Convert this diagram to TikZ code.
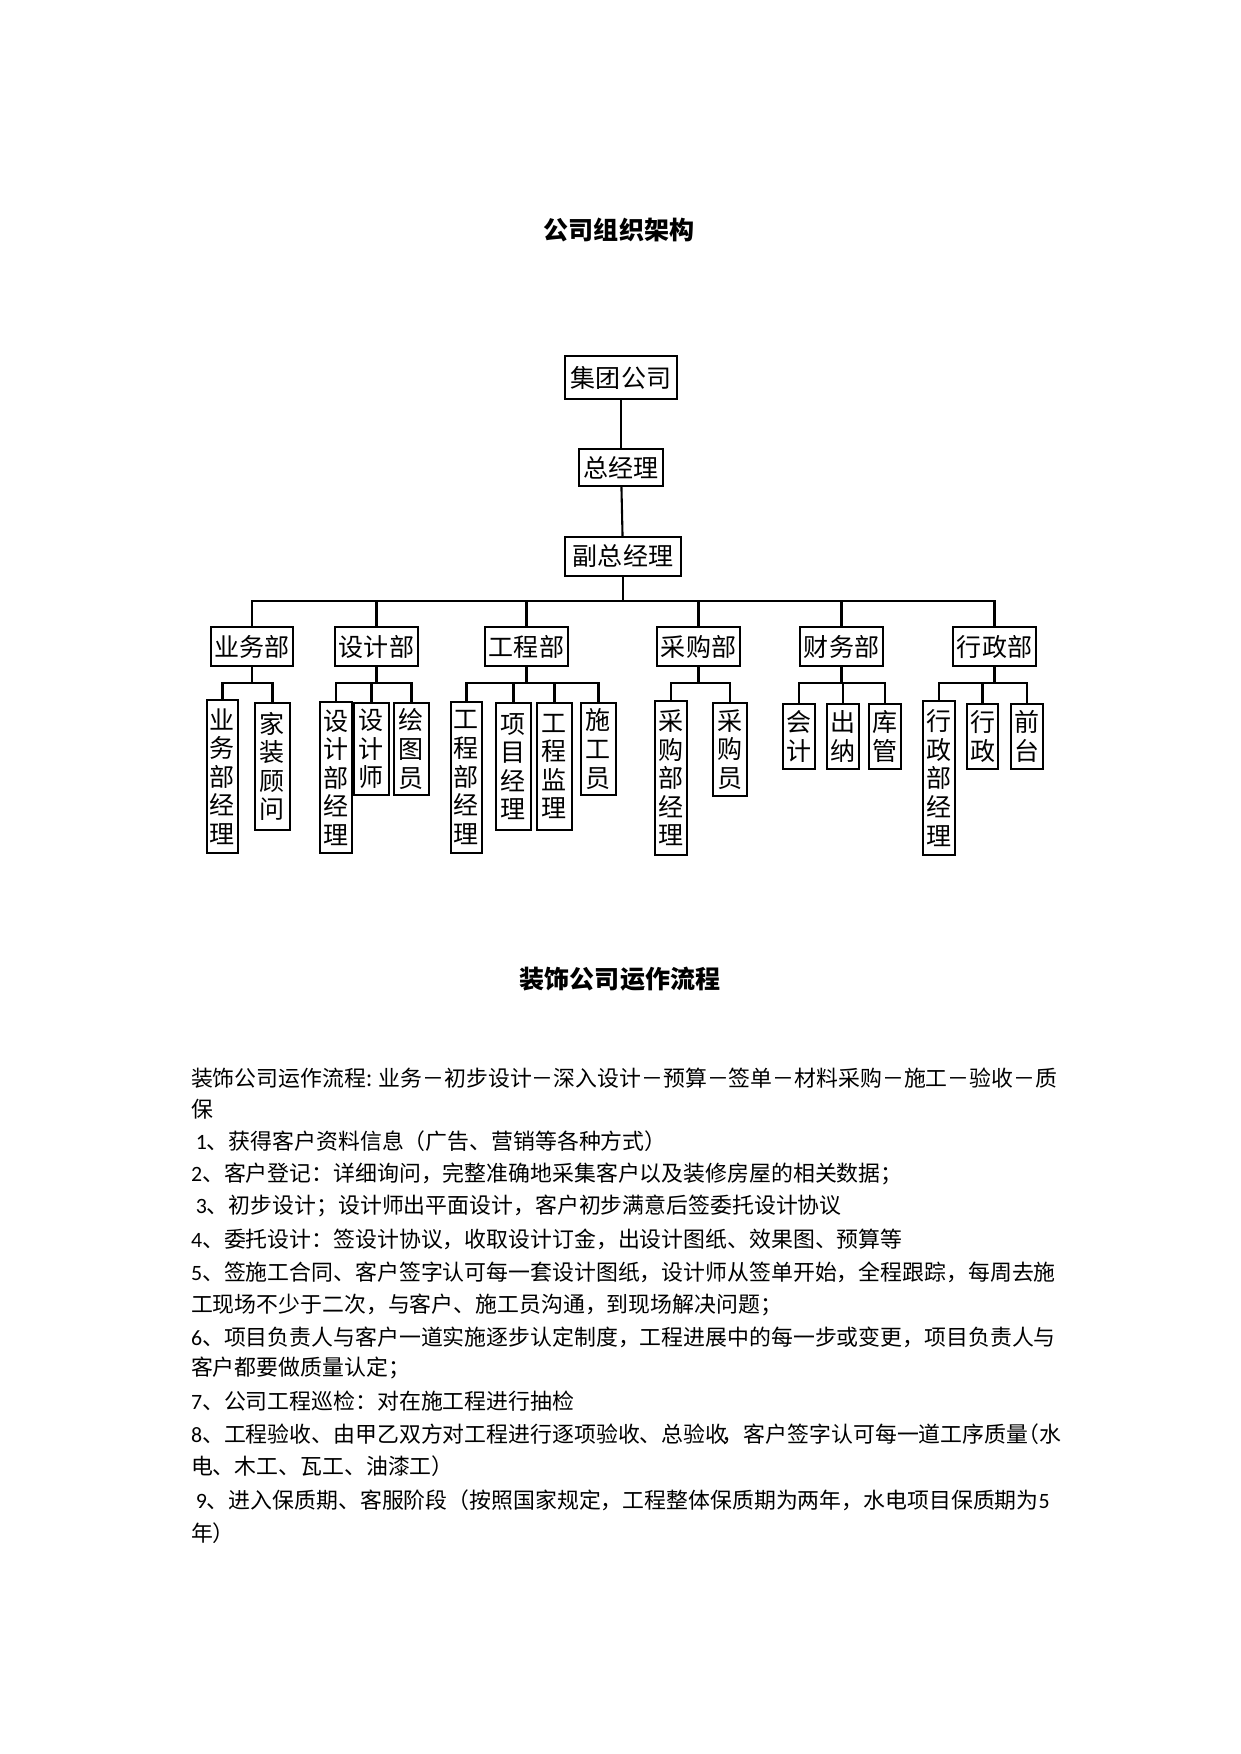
\documentclass[tikz,border=0pt]{standalone}
\usepackage{fontspec}
\setmainfont{Noto Sans CJK SC}
\newfontfamily\lat{Carlito}
\begin{document}
\begin{tikzpicture}[x=0.4797pt,y=-0.4797pt, line width=1pt,
  box/.style={draw, inner sep=0pt, font=\fontsize{12}{13.7}\selectfont, align=center},
  wh/.style 2 args={minimum width=#1*0.4797pt, minimum height=#2*0.4797pt},
  body/.style={anchor=west, inner sep=0pt, font=\fontsize{10.5}{12}\selectfont},
  ttl/.style={inner sep=0pt, font=\fontsize{12}{14}\selectfont\bfseries}]
\useasboundingbox (0,0) rectangle (1241,1754);
% titles
\node[ttl] (t1) at (619,230) {公司组织架构};
\node[ttl] (t2) at (620,979) {装饰公司运作流程};
% top chain
\node[box, wh={112}{43}] (jt) at (621,377.5) {集团公司};
\node[box, wh={84}{37}] (zjl) at (621,467.5) {总经理};
\node[box, wh={116}{39}] (fz) at (623,556.5) {副总经理};
% departments
\node[box, wh={82}{39}] (yw) at (252,646.5) {业务部};
\node[box, wh={83}{39}] (sj) at (376.5,646.5) {设计部};
\node[box, wh={83}{39}] (gc) at (526.5,646.5) {工程部};
\node[box, wh={83}{39}] (cg) at (698.5,646.5) {采购部};
\node[box, wh={83}{39}] (cw) at (841.5,646.5) {财务部};
\node[box, wh={83}{39}] (xz) at (994.5,646.5) {行政部};
% children
\node[box, wh={31}{153}] (yw1) at (222.5,776.5) {业\\务\\部\\经\\理};
\node[box, wh={35}{127}] (yw2) at (272.5,766.5) {家\\装\\顾\\问};
\node[box, wh={32}{151}] (sj1) at (336,777.5) {设\\计\\部\\经\\理};
\node[box, wh={35}{92}] (sj2) at (371.5,749) {设\\计\\师};
\node[box, wh={35}{92}] (sj3) at (411.5,749) {绘\\图\\员};
\node[box, wh={31}{151}] (gc1) at (466.5,777.5) {工\\程\\部\\经\\理};
\node[box, wh={35}{127}] (gc2) at (513.5,766.5) {项\\目\\经\\理};
\node[box, wh={35}{127}] (gc3) at (554.5,766.5) {工\\程\\监\\理};
\node[box, wh={35}{92}] (gc4) at (598.5,749) {施\\工\\员};
\node[box, wh={32}{154}] (cg1) at (671,778) {采\\购\\部\\经\\理};
\node[box, wh={34}{93}] (cg2) at (730,749.5) {采\\购\\员};
\node[box, wh={32}{65}] (cw1) at (799,736.5) {会\\计};
\node[box, wh={32}{65}] (cw2) at (843,736.5) {出\\纳};
\node[box, wh={32}{65}] (cw3) at (885,736.5) {库\\管};
\node[box, wh={32}{154}] (xz1) at (939,778) {行\\政\\部\\经\\理};
\node[box, wh={31}{65}] (xz2) at (982.5,736.5) {行\\政};
\node[box, wh={32}{65}] (xz3) at (1027,736.5) {前\\台};
% bars
\coordinate (bar) at (0,601);
\coordinate (sub) at (0,683);
\draw (jt) -- (zjl);
\draw (zjl) -- (fz);
\draw (fz.south) -- (fz.south |- bar);
\draw (yw.north) -- (yw.north |- bar) -- (xz.north |- bar) -- (xz.north);
\foreach \d in {sj,gc,cg,cw}{\draw (\d.north) -- (\d.north |- bar);}
% sub bars
\draw (yw.south) -- (yw.south |- sub);
\draw (yw1.north) -- (yw1.north |- sub) -- (yw2.north |- sub) -- (yw2.north);
\draw (sj.south) -- (sj.south |- sub);
\draw (sj1.north) -- (sj1.north |- sub) -- (sj3.north |- sub) -- (sj3.north);
\draw (sj2.north) -- (sj2.north |- sub);
\draw (gc.south) -- (gc.south |- sub);
\draw (gc1.north) -- (gc1.north |- sub) -- (gc4.north |- sub) -- (gc4.north);
\draw (gc2.north) -- (gc2.north |- sub);
\draw (gc3.north) -- (gc3.north |- sub);
\draw (cg.south) -- (cg.south |- sub);
\draw (cg1.north) -- (cg1.north |- sub) -- (cg2.north |- sub) -- (cg2.north);
\draw (cw.south) -- (cw.south |- sub);
\draw (cw1.north) -- (cw1.north |- sub) -- (cw3.north |- sub) -- (cw3.north);
\draw (cw2.north) -- (cw2.north |- sub);
\draw (xz.south) -- (xz.south |- sub);
\draw (xz1.north) -- (xz1.north |- sub) -- (xz3.north |- sub) -- (xz3.north);
\draw (xz2.north) -- (xz2.north |- sub);
% body text
\node[body] (l1) at (190,1078) {装饰公司运作流程: 业务－初步设计－深入设计－预算－签单－材料采购－施工－验收－质};
\node[body] (l2) at (190,1109) {保};
\node[body] (l3) at (190,1141) {\hspace{2.3pt}{\lat 1}、获得客户资料信息（广告、营销等各种方式）};
\node[body] (l4) at (190,1174) {{\lat 2}、客户登记：详细询问，完整准确地采集客户以及装修房屋的相关数据；};
\node[body] (l5) at (190,1206) {\hspace{2.3pt}{\lat 3}、初步设计；设计师出平面设计，客户初步满意后签委托设计协议};
\node[body] (l6) at (190,1239) {{\lat 4}、委托设计：签设计协议，收取设计订金，出设计图纸、效果图、预算等};
\node[body] (l7) at (190,1272) {{\lat 5}、签施工合同、客户签字认可每一套设计图纸，设计师从签单开始，全程跟踪，每周去施};
\node[body] (l8) at (190,1305) {工现场不少于二次，与客户、施工员沟通，到现场解决问题；};
\node[body] (l9) at (190,1337) {{\lat 6}、项目负责人与客户一道实施逐步认定制度，工程进展中的每一步或变更，项目负责人与};
\node[body] (l10) at (190,1368) {客户都要做质量认定；};
\node[body] (l11) at (190,1401) {{\lat 7}、公司工程巡检：对在施工程进行抽检};
\node[body] (l12) at (190,1434) {{\lat 8}、工程验收、由甲乙双方对工程进行逐项验收、总验收\kern-0.25em，客户签字认可每一道工序质量\kern-0.5em（水};
\node[body] (l13) at (190,1466) {电、木工、瓦工、油漆工）};
\node[body] (l14) at (190,1500) {\hspace{2.3pt}{\lat 9}、进入保质期、客服阶段（按照国家规定，工程整体保质期为两年，水电项目保质期为{\lat 5}};
\node[body] (l15) at (190,1533) {年）};
\end{tikzpicture}
\end{document}
